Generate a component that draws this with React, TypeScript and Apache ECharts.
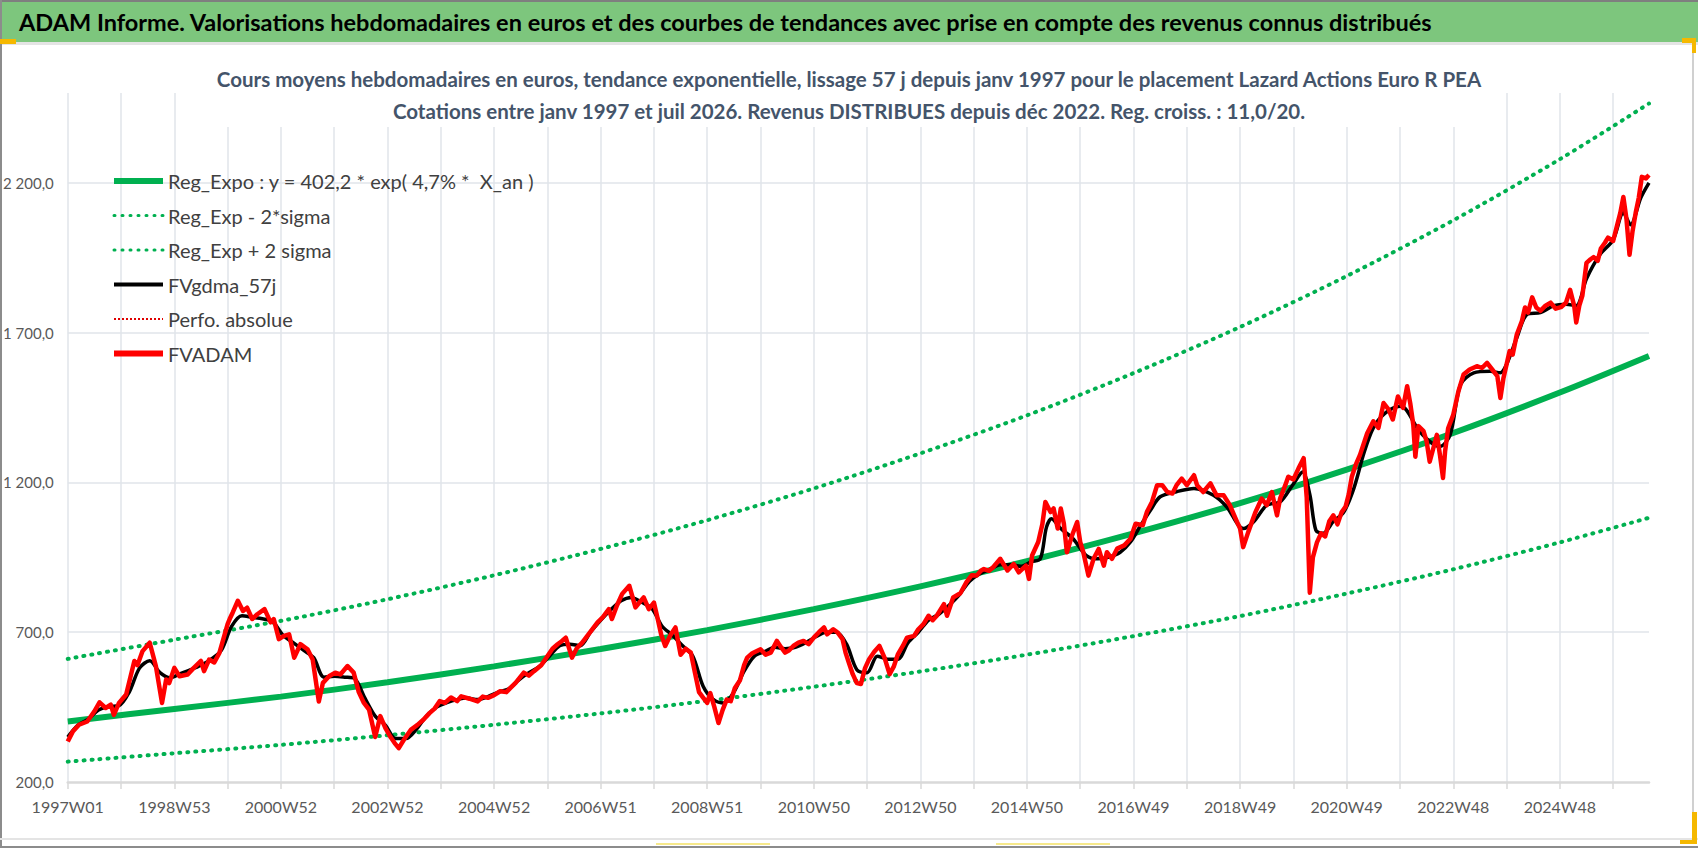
import * as echarts from 'echarts';
import { useEffect, useRef } from 'react';

const HEADER = 'ADAM Informe. Valorisations hebdomadaires en euros et des courbes de tendances avec prise en compte des revenus connus distribués';
const SUBTITLE = [
  'Cours moyens hebdomadaires en euros, tendance exponentielle, lissage 57 j depuis janv 1997 pour le placement Lazard Actions Euro R PEA',
  'Cotations entre janv 1997 et juil 2026. Revenus DISTRIBUES depuis déc 2022. Reg. croiss. : 11,0/20.',
];

// x axis is in weeks since 1997W01, one label every 104 weeks
const WEEK_LABELS = [
  '1997W01', '1998W53', '2000W52', '2002W52', '2004W52', '2006W51', '2008W51', '2010W50',
  '2012W50', '2014W50', '2016W49', '2018W49', '2020W49', '2022W48', '2024W48',
];
const LAST_WEEK = 1543;

const SERIES_NAMES = ['Reg_Expo : y = 402,2 * exp( 4,7% *  X_an )', 'Reg_Exp - 2*sigma', 'Reg_Exp + 2 sigma', 'FVgdma_57j', 'Perfo. absolue', 'FVADAM'];
const LEGEND_WIDTHS = [6, 3, 3, 4, 2, 6];

// trend curves read every 104 weeks
const TREND_WEEKS = [0, 104, 208, 312, 416, 520, 624, 728, 832, 936, 1040, 1144, 1248, 1352, 1456, 1543];
const REG_EXPO = [402, 444, 485, 533, 586, 644, 707, 777, 853, 937, 1030, 1131, 1243, 1365, 1500, 1622];
const REG_LOW = [268, 296, 324, 356, 391, 429, 471, 518, 569, 625, 687, 754, 829, 910, 1000, 1082];
const REG_HIGH = [611, 675, 738, 810, 890, 978, 1074, 1180, 1297, 1424, 1565, 1719, 1889, 2075, 2279, 2465];

// smoothed 57 days [week, value]
const GDMA_57J: [number, number][] = [
  [0, 350], [10, 390], [20, 410], [30, 440], [40, 452], [50, 455], [60, 500], [70, 580], [80, 605], [90, 565],
  [100, 548], [110, 562], [120, 575], [130, 590], [140, 610], [150, 640], [160, 720], [170, 755], [180, 750], [190, 745],
  [200, 735], [210, 690], [220, 665], [230, 640], [240, 615], [250, 550], [260, 553], [270, 550], [280, 545], [290, 480],
  [300, 420], [310, 390], [320, 345], [330, 345], [340, 375], [350, 420], [360, 450], [370, 465], [380, 475], [390, 480],
  [400, 475], [410, 485], [420, 500], [430, 510], [440, 540], [450, 565], [460, 585], [470, 620], [480, 655], [490, 660],
  [500, 655], [510, 700], [520, 740], [530, 775], [540, 805], [550, 816], [560, 800], [570, 780], [580, 720], [590, 690],
  [600, 655], [610, 620], [620, 520], [630, 475], [640, 464], [650, 500], [660, 570], [670, 620], [680, 635], [690, 650],
  [700, 645], [710, 650], [720, 665], [730, 685], [740, 700], [750, 700], [760, 660], [770, 575], [780, 565], [790, 620],
  [800, 610], [810, 610], [820, 665], [830, 700], [840, 740], [850, 760], [860, 790], [870, 825], [880, 870], [890, 895],
  [900, 910], [910, 925], [920, 925], [930, 920], [940, 935], [949, 945], [955, 1050], [960, 1079], [969, 1046], [981, 1012],
  [994, 956], [1005, 945], [1015, 950], [1027, 967], [1037, 1001], [1047, 1057], [1057, 1110], [1066, 1152], [1082, 1169], [1099, 1180],
  [1118, 1157], [1131, 1118], [1147, 1046], [1157, 1068], [1170, 1124], [1183, 1135], [1195, 1190], [1205, 1235], [1212, 1160], [1218, 1040],
  [1225, 1030], [1235, 1070], [1245, 1100], [1255, 1180], [1265, 1300], [1274, 1382], [1285, 1430], [1300, 1454], [1306, 1443], [1319, 1371],
  [1333, 1326], [1339, 1320], [1349, 1359], [1359, 1526], [1372, 1566], [1388, 1571], [1398, 1566], [1404, 1594], [1414, 1683], [1424, 1761],
  [1437, 1767], [1450, 1790], [1462, 1795], [1472, 1790], [1482, 1880], [1495, 1960], [1508, 2010], [1518, 2100], [1525, 2060], [1535, 2150],
  [1543, 2200],
];

// weekly valuation [week, value]
const FVADAM: [number, number][] = [
  [0, 335], [5, 369], [11, 391], [19, 402], [26, 436], [31, 466], [37, 447], [42, 458], [45, 424], [50, 464],
  [57, 492], [65, 604], [68, 590], [73, 637], [80, 665], [86, 587], [92, 464], [96, 542], [99, 530], [104, 581],
  [109, 553], [117, 559], [123, 581], [130, 604], [133, 570], [138, 609], [143, 599], [148, 631], [156, 727], [158, 744],
  [161, 766], [166, 805], [171, 771], [175, 782], [180, 744], [185, 760], [192, 777], [198, 733], [201, 744], [206, 677],
  [211, 688], [216, 693], [221, 615], [227, 660], [234, 643], [239, 609], [245, 469], [249, 531], [255, 553], [261, 565],
  [266, 559], [273, 587], [279, 565], [284, 500], [289, 464], [294, 442], [300, 350], [305, 420], [310, 380], [315, 350],
  [319, 330], [323, 313], [328, 341], [335, 375], [341, 390], [347, 408], [353, 430], [358, 445], [363, 470], [368, 464],
  [374, 482], [380, 470], [384, 486], [392, 478], [400, 469], [405, 485], [410, 481], [416, 490], [422, 503], [428, 500],
  [432, 514], [437, 531], [445, 565], [450, 555], [455, 570], [462, 590], [468, 620], [473, 645], [478, 660], [482, 670],
  [486, 682], [492, 615], [497, 648], [502, 665], [507, 688], [512, 710], [517, 733], [522, 750], [528, 777], [531, 744],
  [536, 790], [541, 828], [548, 855], [554, 783], [558, 800], [562, 816], [567, 777], [572, 799], [576, 740], [579, 693],
  [583, 654], [588, 690], [593, 716], [598, 625], [603, 645], [608, 632], [612, 565], [616, 500], [620, 482], [624, 464],
  [627, 497], [631, 450], [635, 397], [639, 440], [643, 475], [647, 470], [651, 514], [656, 540], [660, 590], [663, 615],
  [668, 630], [676, 643], [681, 625], [686, 632], [692, 671], [696, 650], [700, 632], [704, 640], [708, 654], [713, 665],
  [718, 671], [723, 660], [728, 682], [733, 700], [738, 716], [741, 693], [747, 710], [751, 700], [756, 677], [759, 632],
  [762, 600], [766, 560], [770, 530], [774, 527], [778, 580], [782, 610], [787, 635], [792, 654], [797, 615], [802, 560],
  [806, 585], [810, 626], [815, 655], [819, 682], [826, 688], [830, 710], [835, 727], [840, 755], [844, 740], [848, 755],
  [855, 794], [858, 755], [864, 816], [871, 830], [877, 867], [882, 890], [887, 889], [891, 905], [894, 911], [899, 905],
  [903, 917], [910, 945], [917, 906], [923, 928], [928, 900], [935, 922], [938, 878], [941, 956], [947, 1001], [951, 1060],
  [954, 1135], [959, 1101], [962, 1113], [966, 1046], [969, 1113], [972, 1063], [975, 967], [980, 1023], [985, 1068], [988, 1001],
  [991, 967], [996, 889], [1001, 945], [1006, 978], [1011, 922], [1014, 967], [1019, 945], [1024, 979], [1031, 990], [1037, 1012],
  [1042, 1062], [1049, 1057], [1053, 1101], [1058, 1135], [1063, 1191], [1068, 1191], [1073, 1168], [1078, 1163], [1082, 1191], [1087, 1213],
  [1092, 1191], [1099, 1224], [1102, 1191], [1108, 1168], [1115, 1197], [1121, 1157], [1128, 1157], [1134, 1124], [1141, 1068], [1144, 1046],
  [1147, 984], [1152, 1035], [1159, 1101], [1165, 1146], [1170, 1124], [1175, 1168], [1180, 1090], [1183, 1146], [1188, 1190], [1191, 1219],
  [1196, 1210], [1201, 1247], [1206, 1281], [1209, 1150], [1212, 832], [1215, 950], [1219, 1000], [1223, 1030], [1227, 1020], [1231, 1070],
  [1235, 1090], [1239, 1060], [1243, 1100], [1247, 1120], [1250, 1160], [1253, 1219], [1257, 1260], [1261, 1292], [1268, 1364], [1274, 1404],
  [1279, 1382], [1284, 1465], [1289, 1443], [1293, 1410], [1298, 1487], [1303, 1449], [1307, 1521], [1310, 1465], [1313, 1392], [1315, 1286],
  [1318, 1388], [1323, 1371], [1326, 1337], [1329, 1269], [1333, 1320], [1336, 1359], [1339, 1292], [1342, 1215], [1344, 1303], [1347, 1381],
  [1352, 1426], [1357, 1504], [1362, 1560], [1368, 1577], [1375, 1588], [1380, 1582], [1385, 1599], [1390, 1577], [1395, 1555], [1398, 1482],
  [1401, 1549], [1407, 1639], [1410, 1627], [1414, 1694], [1419, 1739], [1422, 1784], [1425, 1767], [1429, 1818], [1433, 1784], [1437, 1773],
  [1442, 1790], [1447, 1800], [1452, 1780], [1457, 1785], [1462, 1800], [1466, 1843], [1470, 1790], [1472, 1734], [1475, 1790], [1478, 1824],
  [1482, 1933], [1486, 1945], [1489, 1952], [1493, 1940], [1496, 1981], [1500, 2000], [1503, 2017], [1508, 2006], [1512, 2060], [1515, 2100],
  [1518, 2153], [1521, 2080], [1524, 1960], [1527, 2040], [1530, 2100], [1533, 2150], [1536, 2220], [1540, 2215], [1543, 2226],
];

const FONT = 'Lato, "Open Sans", sans-serif';
const GREEN = '#00b050';

function fmtValue(v: number) {
  const [i, d] = v.toFixed(1).split('.');
  return i.replace(/\B(?=(\d{3})+(?!\d))/g, ' ') + ',' + d;
}

const trend = (vals: number[]) => TREND_WEEKS.map((w, i) => [w, vals[i]]);

export default function App() {
  const chartRef = useRef<HTMLDivElement>(null);

  useEffect(() => {
    document.body.style.margin = '0';
    if (!chartRef.current) return;
    const chart = echarts.init(chartRef.current, undefined, { renderer: 'svg' });

    chart.setOption({
      animation: false,
      backgroundColor: '#fff',
      title: {
        text: SUBTITLE.join('\n'),
        left: 'center',
        top: 63,
        padding: [0, 12],
        backgroundColor: '#fff',
        textStyle: { fontFamily: FONT, fontSize: 20.5, fontWeight: 'bold', color: '#44546a', lineHeight: 32 },
      },
      legend: {
        orient: 'vertical',
        left: 106,
        top: 166,
        itemWidth: 49,
        itemHeight: 14,
        itemGap: 14.5,
        selectedMode: false,
        itemStyle: { opacity: 0, borderWidth: 0 },
        textStyle: { fontFamily: FONT, fontSize: 20, color: '#404040' },
        data: SERIES_NAMES.map((name, i) => ({ name, lineStyle: { width: LEGEND_WIDTHS[i] } })),
      },
      grid: { left: 67, right: 49, top: 93, bottom: 66, containLabel: false },
      xAxis: {
        type: 'value',
        min: 0,
        max: LAST_WEEK,
        interval: 52,
        axisLine: { show: true, onZero: false, lineStyle: { color: '#d9d9d9', width: 2.5 } },
        axisTick: { show: true, length: 7, lineStyle: { color: '#d9d9d9', width: 1.5 } },
        axisLabel: {
          formatter: (v: number) => (v % 104 === 0 ? WEEK_LABELS[v / 104] ?? '' : ''),
          color: '#595959',
          fontFamily: FONT,
          fontSize: 16,
          margin: 16,
          showMaxLabel: false,
        },
        splitLine: { show: true, showMaxLine: false, lineStyle: { color: '#e1e4ea', width: 1.5 } },
      },
      yAxis: {
        type: 'value',
        min: 200,
        max: 2500,
        interval: 500,
        axisLine: { show: false },
        axisTick: { show: false },
        axisLabel: {
          formatter: (v: number) => (v > 2200 ? '' : fmtValue(v)),
          color: '#595959',
          fontFamily: FONT,
          fontSize: 15,
          margin: 14,
          showMaxLabel: false,
        },
        splitLine: { show: true, showMinLine: false, showMaxLine: false, lineStyle: { color: '#e1e4ea', width: 1.5 } },
      },
      graphic: [
        { type: 'rect', shape: { x: 0, y: 0, width: 1698, height: 42 }, style: { fill: '#7dc67d' }, z: 10 },
        { type: 'line', shape: { x1: 0, y1: 1, x2: 1698, y2: 1 }, style: { stroke: '#7f7f7f', lineWidth: 2 }, z: 11 },
        { type: 'rect', shape: { x: 0, y: 42, width: 1698, height: 3 }, style: { fill: '#e4e4e4' }, z: 10 },
        { type: 'line', shape: { x1: 1, y1: 0, x2: 1, y2: 848 }, style: { stroke: '#8c8c8c', lineWidth: 2 }, z: 11 },
        { type: 'line', shape: { x1: 1693, y1: 42, x2: 1693, y2: 840 }, style: { stroke: '#d0d0d0', lineWidth: 2 }, z: 11 },
        { type: 'line', shape: { x1: 0, y1: 839, x2: 1698, y2: 839 }, style: { stroke: '#e4e4e4', lineWidth: 2 }, z: 11 },
        { type: 'line', shape: { x1: 0, y1: 847, x2: 1698, y2: 847 }, style: { stroke: '#8c8c8c', lineWidth: 2 }, z: 11 },
        { type: 'rect', shape: { x: 0, y: 39, width: 16, height: 5 }, style: { fill: '#f5b800' }, z: 12 },
        { type: 'rect', shape: { x: 1682, y: 38, width: 14, height: 5 }, style: { fill: '#f5b800' }, z: 12 },
        { type: 'rect', shape: { x: 1692, y: 38, width: 4, height: 15 }, style: { fill: '#f5b800' }, z: 12 },
        { type: 'rect', shape: { x: 1692, y: 812, width: 5, height: 32 }, style: { fill: '#f5b800' }, z: 12 },
        { type: 'rect', shape: { x: 1680, y: 840, width: 17, height: 4 }, style: { fill: '#f5b800' }, z: 12 },
        { type: 'rect', shape: { x: 656, y: 843, width: 114, height: 2 }, style: { fill: '#f7e98b' }, z: 12 },
        { type: 'rect', shape: { x: 996, y: 843, width: 114, height: 2 }, style: { fill: '#f7e98b' }, z: 12 },
        {
          type: 'text',
          x: 19,
          y: 22,
          z: 12,
          style: { text: HEADER, fontFamily: FONT, fontSize: 23.5, fontWeight: 'bold', fill: '#000', verticalAlign: 'middle' },
        },
      ],
      series: [
        {
          name: SERIES_NAMES[0], type: 'line', data: trend(REG_EXPO), smooth: 0.3, symbol: 'none',
          lineStyle: { color: GREEN, width: 6 }, itemStyle: { color: GREEN },
        },
        {
          name: SERIES_NAMES[1], type: 'line', data: trend(REG_LOW), smooth: 0.3, symbol: 'none',
          lineStyle: { color: GREEN, width: 4, type: [1, 7], cap: 'round' }, itemStyle: { color: GREEN },
        },
        {
          name: SERIES_NAMES[2], type: 'line', data: trend(REG_HIGH), smooth: 0.3, symbol: 'none',
          lineStyle: { color: GREEN, width: 4, type: [1, 7], cap: 'round' }, itemStyle: { color: GREEN },
        },
        {
          name: SERIES_NAMES[3], type: 'line', data: GDMA_57J, smooth: 0.3, symbol: 'none',
          lineStyle: { color: '#000', width: 3.5 }, itemStyle: { color: '#000' },
        },
        {
          name: SERIES_NAMES[4], type: 'line', data: [], symbol: 'none',
          lineStyle: { color: '#e00000', width: 2, type: [2, 2] }, itemStyle: { color: '#e00000' },
        },
        {
          name: SERIES_NAMES[5], type: 'line', data: FVADAM, symbol: 'none',
          lineStyle: { color: '#ff0000', width: 4.5, join: 'round' }, itemStyle: { color: '#ff0000' },
        },
      ],
    });

    return () => {
      chart.dispose();
    };
  }, []);

  return <div ref={chartRef} style={{ width: 1698, height: 848 }} />;
}
